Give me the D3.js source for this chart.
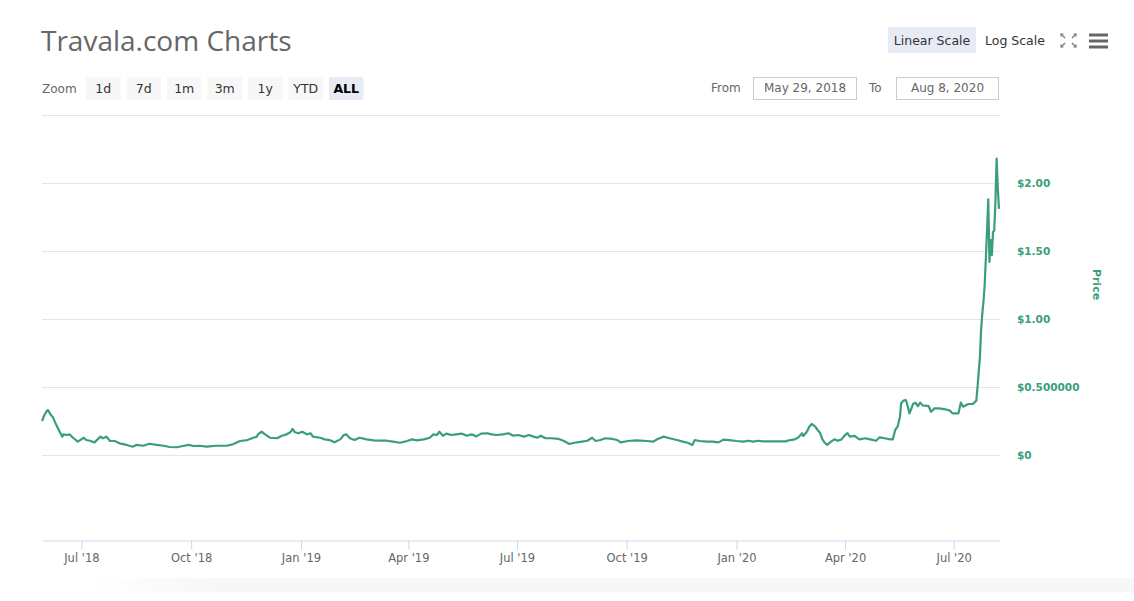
<!DOCTYPE html>
<html>
<head>
<meta charset="utf-8">
<script src="https://cdn.jsdelivr.net/npm/d3@7"></script>
<style>
  body { margin: 0; background: #fff; }
  text { font-family: "DejaVu Sans", sans-serif; }
</style>
</head>
<body>
<div id="container"></div>
<script>
// ---- data ----
let dates = [
  "2018-05-29","2018-05-31","2018-06-02","2018-06-03","2018-06-05","2018-06-07","2018-06-10","2018-06-13",
  "2018-06-15","2018-06-16","2018-06-19","2018-06-21","2018-06-24","2018-06-28","2018-07-03","2018-07-05",
  "2018-07-08","2018-07-12","2018-07-17","2018-07-19","2018-07-22","2018-07-25","2018-07-29","2018-08-02",
  "2018-08-08","2018-08-13","2018-08-16","2018-08-22","2018-08-27","2018-09-02","2018-09-08","2018-09-13",
  "2018-09-19","2018-09-24","2018-09-29","2018-10-03","2018-10-08","2018-10-14","2018-10-22","2018-10-31",
  "2018-11-05","2018-11-11","2018-11-17","2018-11-21","2018-11-25","2018-11-26","2018-11-29","2018-12-02",
  "2018-12-06","2018-12-12","2018-12-16","2018-12-20","2018-12-23","2018-12-25","2018-12-27","2018-12-30",
  "2019-01-02","2019-01-06","2019-01-09","2019-01-11","2019-01-17","2019-01-21","2019-01-25","2019-01-29",
  "2019-02-03","2019-02-06","2019-02-08","2019-02-11","2019-02-15","2019-02-19","2019-02-25","2019-03-03",
  "2019-03-08","2019-03-14","2019-03-19","2019-03-25","2019-03-31","2019-04-04","2019-04-08","2019-04-14",
  "2019-04-19","2019-04-22","2019-04-25","2019-04-27","2019-04-30","2019-05-03","2019-05-07","2019-05-11",
  "2019-05-16","2019-05-20","2019-05-24","2019-05-28","2019-06-01","2019-06-06","2019-06-10","2019-06-14",
  "2019-06-19","2019-06-24","2019-06-28","2019-07-02","2019-07-07","2019-07-11","2019-07-15","2019-07-18",
  "2019-07-21","2019-07-25","2019-07-30","2019-08-05","2019-08-09","2019-08-14","2019-08-18","2019-08-23",
  "2019-08-29","2019-09-02","2019-09-05","2019-09-09","2019-09-13","2019-09-19","2019-09-23","2019-09-26",
  "2019-10-02","2019-10-09","2019-10-18","2019-10-23","2019-10-27","2019-11-01","2019-11-06","2019-11-12",
  "2019-11-17","2019-11-21","2019-11-25","2019-11-27","2019-12-01","2019-12-07","2019-12-12","2019-12-17",
  "2019-12-21","2019-12-26","2020-01-01","2020-01-07","2020-01-11","2020-01-15","2020-01-19","2020-01-23",
  "2020-01-29","2020-02-04","2020-02-11","2020-02-15","2020-02-19","2020-02-22","2020-02-25","2020-02-26",
  "2020-02-29","2020-03-02","2020-03-04","2020-03-07","2020-03-09","2020-03-11","2020-03-13","2020-03-15",
  "2020-03-17","2020-03-20","2020-03-23","2020-03-26","2020-03-29","2020-04-01","2020-04-03","2020-04-05",
  "2020-04-09","2020-04-13","2020-04-18","2020-04-22","2020-04-27","2020-04-30","2020-05-04","2020-05-09",
  "2020-05-11","2020-05-13","2020-05-15","2020-05-17","2020-05-18","2020-05-20","2020-05-22","2020-05-23",
  "2020-05-25","2020-05-28","2020-05-30","2020-06-01","2020-06-03","2020-06-05","2020-06-10","2020-06-12",
  "2020-06-15","2020-06-19","2020-06-24","2020-06-28","2020-06-30","2020-07-05","2020-07-07","2020-07-09",
  "2020-07-12","2020-07-14","2020-07-17","2020-07-20","2020-07-21","2020-07-23","2020-07-24","2020-07-25",
  "2020-07-26","2020-07-27","2020-07-28","2020-07-29","2020-07-30","2020-07-31","2020-08-01","2020-08-02",
  "2020-08-03","2020-08-04","2020-08-05","2020-08-06","2020-08-07","2020-08-08"
];

let prices = [
  0.25, 0.294, 0.324, 0.33, 0.30, 0.28, 0.22, 0.167,
  0.135, 0.152, 0.147, 0.152, 0.127, 0.098, 0.127, 0.11,
  0.105, 0.093, 0.135, 0.123, 0.135, 0.103, 0.103, 0.086,
  0.074, 0.061, 0.074, 0.068, 0.083, 0.074, 0.068, 0.059,
  0.057, 0.066, 0.074, 0.066, 0.068, 0.061, 0.068, 0.068,
  0.079, 0.103, 0.11, 0.123, 0.135, 0.152, 0.171, 0.152,
  0.127, 0.123, 0.142, 0.152, 0.167, 0.191, 0.167, 0.16,
  0.171, 0.152, 0.16, 0.135, 0.127, 0.115, 0.11, 0.093,
  0.115, 0.147, 0.152, 0.123, 0.11, 0.127, 0.115, 0.108,
  0.105, 0.105, 0.098, 0.09, 0.103, 0.115, 0.108, 0.115,
  0.127, 0.152, 0.147, 0.171, 0.142, 0.157, 0.147, 0.152,
  0.157, 0.142, 0.152, 0.137, 0.157, 0.16, 0.152, 0.147,
  0.152, 0.16, 0.142, 0.147, 0.135, 0.147, 0.135, 0.127,
  0.142, 0.123, 0.123, 0.118, 0.105, 0.081, 0.09, 0.096,
  0.105, 0.127, 0.103, 0.11, 0.123, 0.118, 0.11, 0.093,
  0.103, 0.108, 0.103, 0.098, 0.118, 0.135, 0.123, 0.11,
  0.098, 0.09, 0.074, 0.11, 0.103, 0.098, 0.098, 0.093,
  0.113, 0.11, 0.103, 0.098, 0.105, 0.098, 0.105, 0.10,
  0.10, 0.10, 0.10, 0.11, 0.115, 0.13, 0.16, 0.14,
  0.171, 0.208, 0.228, 0.208, 0.184, 0.164, 0.115, 0.09,
  0.074, 0.096, 0.115, 0.105, 0.115, 0.147, 0.16, 0.135,
  0.14, 0.115, 0.123, 0.115, 0.105, 0.13, 0.123, 0.115,
  0.115, 0.184, 0.208, 0.28, 0.38, 0.40, 0.404, 0.375,
  0.306, 0.375, 0.385, 0.36, 0.385, 0.365, 0.36, 0.318,
  0.343, 0.343, 0.336, 0.326, 0.306, 0.306, 0.385, 0.355,
  0.37, 0.375, 0.375, 0.40, 0.50, 0.72, 0.92, 1.04,
  1.13, 1.25, 1.45, 1.65, 1.88, 1.42, 1.58, 1.47,
  1.64, 1.65, 1.86, 2.18, 1.96, 1.81
];

let xTickDates = ["2018-07-01","2018-10-01","2019-01-01","2019-04-01","2019-07-01",
                  "2019-10-01","2020-01-01","2020-04-01","2020-07-01"];
let xTickLabels = ["Jul '18","Oct '18","Jan '19","Apr '19","Jul '19",
                   "Oct '19","Jan '20","Apr '20","Jul '20"];
let yGridTicks = [0, 0.5, 1, 1.5, 2, 2.5];
let yLabelTicks = [0, 0.5, 1, 1.5, 2];
let yTickLabels = ["$0", "$0.500000", "$1.00", "$1.50", "$2.00"];
let zoomButtons = ["1d", "7d", "1m", "3m", "1y", "YTD", "ALL"];
let selectedZoom = "ALL";
let fromDate = "May 29, 2018";
let toDate = "Aug 8, 2020";
let domainStart = "2018-05-29";
let domainEnd = "2020-08-08";
let yDomain = [-0.625, 2.5];

// ---- layout ----
let w = 1134;
let h = 601;
let plotLeft = 42;
let plotRight = 999;
let plotTop = 115;
let plotBottom = 540;
let green = "#3a9e79";

let viz = d3.select("#container")
  .append("svg")
    .attr("width", w)
    .attr("height", h)
;

let parseDate = d3.timeParse("%Y-%m-%d");
let series = dates.map(function(d, i){
  return { date: parseDate(d), price: prices[i] };
});

// faint shade along the bottom edge
let defs = viz.append("defs");
let shade = defs.append("linearGradient").attr("id", "shade");
shade.append("stop").attr("offset", "0").attr("stop-color", "#fff");
shade.append("stop").attr("offset", "0.12").attr("stop-color", "#f7f7f7");
shade.append("stop").attr("offset", "1").attr("stop-color", "#f7f7f7");
viz.append("rect")
  .attr("x", 90).attr("y", 578).attr("width", w - 90).attr("height", 14)
  .attr("fill", "url(#shade)");

// title
viz.append("text")
  .attr("x", 41)
  .attr("y", 51)
  .text("Travala.com Charts")
  .style("font-family", "'Open Sans', sans-serif")
  .style("font-size", "28px")
  .attr("fill", "#666");

// range selector
viz.append("text")
  .attr("x", 42).attr("y", 92.5)
  .text("Zoom")
  .style("font-size", "12px")
  .attr("fill", "#666");

let btnScale = d3.scaleBand()
  .domain(zoomButtons)
  .range([86, 363.5])
  .paddingInner(0.148)
  .paddingOuter(0);

let btns = viz.selectAll(".zoombtn").data(zoomButtons).enter()
  .append("g")
    .attr("class", "zoombtn")
    .attr("transform", function(d){ return "translate(" + btnScale(d) + ",77)"; });
btns.append("rect")
  .attr("width", btnScale.bandwidth())
  .attr("height", 23)
  .attr("rx", 2)
  .attr("fill", function(d){ return d == selectedZoom ? "#e6ebf5" : "#f7f7f7"; });
btns.append("text")
  .attr("x", btnScale.bandwidth() / 2)
  .attr("y", 16)
  .attr("text-anchor", "middle")
  .text(function(d){ return d; })
  .style("font-size", "12.5px")
  .style("font-weight", function(d){ return d == selectedZoom ? "bold" : "normal"; })
  .attr("fill", function(d){ return d == selectedZoom ? "#000" : "#333"; });

// from / to inputs
viz.append("text").attr("x", 711).attr("y", 92).text("From")
  .style("font-size", "12px").attr("fill", "#666");
viz.append("text").attr("x", 869).attr("y", 92).text("To")
  .style("font-size", "12px").attr("fill", "#666");
let inputs = [[753.5, 103, fromDate], [896.5, 102, toDate]];
inputs.forEach(function(inp){
  viz.append("rect")
    .attr("x", inp[0]).attr("y", 77.5).attr("width", inp[1]).attr("height", 22)
    .attr("fill", "#fff").attr("stroke", "#ccc");
  viz.append("text")
    .attr("x", inp[0] + inp[1] / 2).attr("y", 92)
    .attr("text-anchor", "middle")
    .text(inp[2])
    .style("font-size", "12px").attr("fill", "#666");
});

// linear / log toggle
viz.append("rect")
  .attr("x", 888).attr("y", 27).attr("width", 88).attr("height", 26)
  .attr("rx", 2).attr("fill", "#e6ebf5");
viz.append("text").attr("x", 932).attr("y", 44.5).attr("text-anchor", "middle")
  .text("Linear Scale").style("font-size", "12.5px").attr("fill", "#333");
viz.append("text").attr("x", 985).attr("y", 44.5)
  .text("Log Scale").style("font-size", "12.5px").attr("fill", "#333");

// fullscreen icon: four arrows pointing outward
let icon = viz.append("g").attr("stroke", "#777").attr("stroke-width", 1.2).attr("fill", "none");
[[1061, 34, 1, 1], [1076, 34, -1, 1], [1061, 47, 1, -1], [1076, 47, -1, -1]].forEach(function(c){
  icon.append("line")
    .attr("x1", c[0]).attr("y1", c[1])
    .attr("x2", c[0] + 4 * c[2]).attr("y2", c[1] + 4 * c[3]);
  icon.append("path")
    .attr("d", "M" + c[0] + "," + (c[1] + 2.5 * c[3]) + "L" + c[0] + "," + c[1] + "L" + (c[0] + 2.5 * c[2]) + "," + c[1]);
});

// hamburger menu
[35, 41, 47].forEach(function(y){
  viz.append("line")
    .attr("x1", 1089).attr("x2", 1108).attr("y1", y).attr("y2", y)
    .attr("stroke", "#666").attr("stroke-width", 3);
});

// ---- scales ----
let xScale = d3.scaleTime()
  .domain([parseDate(domainStart), parseDate(domainEnd)])
  .range([plotLeft, plotRight]);
let yScale = d3.scaleLinear()
  .domain(yDomain)
  .range([plotBottom, plotTop]);

// grid lines
viz.append("g").attr("class", "grid")
  .selectAll("line").data(yGridTicks).enter()
  .append("line")
    .attr("x1", plotLeft)
    .attr("x2", plotRight + 1)
    .attr("y1", function(d){ return Math.round(yScale(d)) + 0.5; })
    .attr("y2", function(d){ return Math.round(yScale(d)) + 0.5; })
    .attr("stroke", "#e6e6e6");

// x axis
let xAxis = d3.axisBottom(xScale)
  .tickValues(xTickDates.map(parseDate))
  .tickFormat(function(d, i){ return xTickLabels[i]; })
  .tickSize(9)
  .tickSizeOuter(0)
  .tickPadding(4);
let xAxisGroup = viz.append("g")
  .attr("class", "xaxisgroup")
  .attr("transform", "translate(0," + (plotBottom + 0.5) + ")");
xAxisGroup.call(xAxis);
xAxisGroup.select(".domain").attr("stroke", "#ccd6eb");
xAxisGroup.selectAll(".tick line").attr("stroke", "#ccd6eb");
xAxisGroup.selectAll(".tick text")
  .attr("fill", "#666")
  .style("font-family", "'DejaVu Sans', sans-serif")
  .style("font-size", "11.5px");

// y axis (labels on the right)
let yAxis = d3.axisRight(yScale)
  .tickValues(yLabelTicks)
  .tickFormat(function(d, i){ return yTickLabels[i]; })
  .tickSize(0)
  .tickPadding(17);
let yAxisGroup = viz.append("g")
  .attr("class", "yaxisgroup")
  .attr("transform", "translate(" + (plotRight + 1) + ",0)");
yAxisGroup.call(yAxis);
yAxisGroup.select(".domain").remove();
yAxisGroup.selectAll(".tick text")
  .attr("fill", green)
  .style("font-family", "'DejaVu Sans', sans-serif")
  .style("font-weight", "bold")
  .style("font-size", "10.5px");

viz.append("text")
  .attr("transform", "translate(1093," + ((plotTop + plotBottom) / 2 - 43) + ") rotate(90)")
  .attr("text-anchor", "middle")
  .text("Price")
  .style("font-weight", "bold")
  .style("font-size", "11px")
  .attr("fill", green);

// price line
let lineMaker = d3.line()
  .x(function(d){ return xScale(d.date); })
  .y(function(d){ return yScale(d.price); });

viz.append("path")
  .datum(series)
  .attr("d", lineMaker)
  .attr("fill", "none")
  .attr("stroke", green)
  .attr("stroke-width", 2.2)
  .attr("stroke-linejoin", "round");
</script>
</body>
</html>
